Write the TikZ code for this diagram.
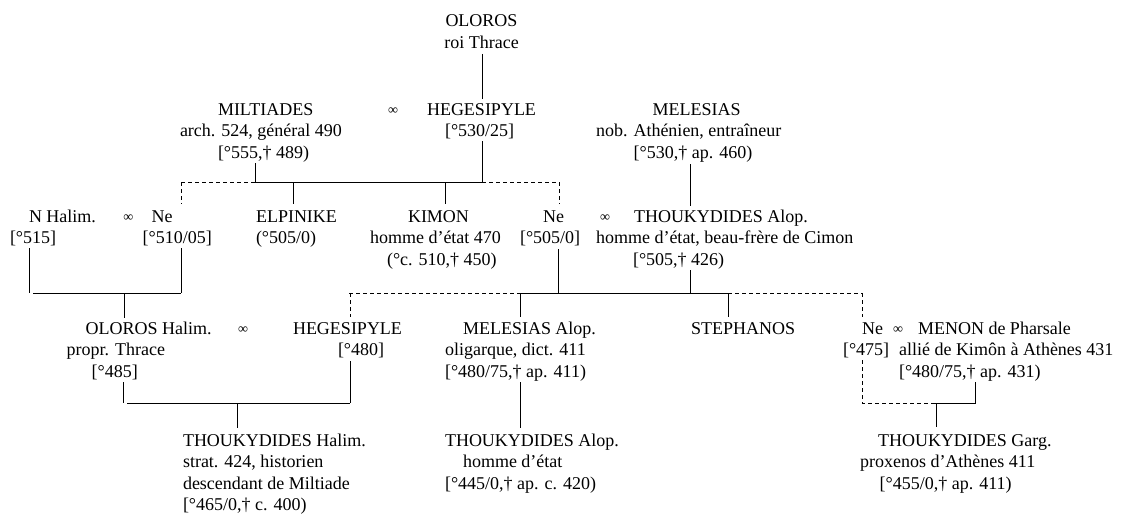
\documentclass[tikz,border=0pt]{standalone}
\usepackage{fontspec}
\setmainfont{Liberation Serif}
\newcommand{\gfs}{\fontsize{18}{21.6}\selectfont}
\newcommand{\mfs}{\fontsize{14}{16}\selectfont}
\newcommand{\Lb}[1]{\begin{tabular}[t]{@{}l@{}}#1\end{tabular}}
\newcommand{\Cb}[1]{\begin{tabular}[t]{@{}c@{}}#1\end{tabular}}
\newcommand{\ii}[1]{\hspace*{#1pt}}
\tikzset{
  pers/.style={inner sep=0pt, outer sep=0pt, anchor=base west, font=\gfs},
  marr/.style={inner sep=0pt, outer sep=0pt, anchor=base, font=\mfs},
  top/.style={inner sep=0pt, outer sep=0pt, anchor=base, font=\gfs},
  ln/.style={line width=0.8pt},
  dl/.style={line width=0.8pt, dash pattern=on 4pt off 3pt},
}
\begin{document}
\begin{tikzpicture}[x=1pt,y=-1pt]
\useasboundingbox (0,0) rectangle (1123,516);
% ---- persons
\node[top] (oloros) at (481.5,27) {\Cb{OLOROS\\roi Thrace}};
\node[pers] (milt) at (180,115) {\Lb{\ii{38}MILTIADES\\arch. 524, général 490\\\ii{38}[°555,† 489)}};
\node[marr] (m1) at (393,114) {∞};
\node[pers] (hege1) at (427,115) {\Lb{HEGESIPYLE\\\ii{18}[°530/25]}};
\node[pers] (mel) at (596,115) {\Lb{\ii{56.6}MELESIAS\\nob. Athénien, entraîneur\\\ii{37.6}[°530,† ap. 460)}};

\node[pers] (nhal) at (10,222) {\Lb{\ii{19}N Halim.\\{}[°515]}};
\node[marr] (m2) at (128.3,221) {∞};
\node[pers] (ne1) at (142.7,222) {\Lb{\ii{9}Ne\\{}[°510/05]}};
\node[pers] (elp) at (256,222) {\Lb{ELPINIKE\\(°505/0)}};
\node[pers] (kimon) at (370,222) {\Lb{\ii{38}KIMON\\homme d’état 470\\\ii{17}(°c. 510,† 450)}};
\node[pers] (ne2) at (520,222) {\Lb{\ii{23}Ne\\{}[°505/0]}};
\node[marr] (m3) at (605,221) {∞};
\node[pers] (thal) at (596,222) {\Lb{\ii{38}THOUKYDIDES Alop.\\homme d’état, beau-frère de Cimon\\\ii{37}[°505,† 426)}};

\node[pers] (olh) at (66.7,334) {\Lb{\ii{19}OLOROS Halim.\\propr. Thrace\\\ii{25}[°485]}};
\node[marr] (m4) at (243,333) {∞};
\node[pers] (hege2) at (293,334) {\Lb{HEGESIPYLE\\\ii{45}[°480]}};
\node[pers] (melal) at (445,334) {\Lb{\ii{18}MELESIAS Alop.\\oligarque, dict. 411\\{}[°480/75,† ap. 411)}};
\node[pers] (steph) at (691,334) {STEPHANOS};
\node[pers] (ne3) at (843,334) {\Lb{\ii{19}Ne\\{}[°475]}};
\node[marr] (m5) at (898,333) {∞};
\node[pers] (menon) at (899,334) {\Lb{\ii{19}MENON de Pharsale\\allié de Kimôn à Athènes 431\\{}[°480/75,† ap. 431)}};

\node[pers] (thh) at (183,446) {\Lb{THOUKYDIDES Halim.\\strat. 424, historien\\descendant de Miltiade\\{}[°465/0,† c. 400)}};
\node[pers] (tha) at (445,446) {\Lb{THOUKYDIDES Alop.\\\ii{18}homme d’état\\{}[°445/0,† ap. c. 420)}};
\node[pers] (thg) at (860,446) {\Lb{\ii{18}THOUKYDIDES Garg.\\proxenos d’Athènes 411\\\ii{19.6}[°455/0,† ap. 411)}};

% ---- junction coordinates
\coordinate (a0) at (482,54);   \coordinate (a1) at (482,99);
\coordinate (b0) at (482,141);  \coordinate (b1) at (482,182);
\coordinate (c0) at (255.5,163);\coordinate (c1) at (255.5,182);
\coordinate (hL) at (181,182);  \coordinate (hR) at (559,182);
\coordinate (dne1) at (181,204); \coordinate (delp) at (293,204);
\coordinate (delp0) at (293,182);
\coordinate (dkim0) at (445,182); \coordinate (dkim) at (445,204);
\coordinate (dne2) at (559,204);
\coordinate (e0) at (690,164);  \coordinate (e1) at (690,206);

\coordinate (f0) at (29,248);  \coordinate (f1) at (29,293);
\coordinate (g0) at (181,248); \coordinate (g1) at (181,293);
\coordinate (fh) at (33,293);
\coordinate (k0) at (124,293); \coordinate (k1) at (124,318);

\coordinate (n0) at (558,249); \coordinate (n1) at (558,293);
\coordinate (t0) at (690,270); \coordinate (t1) at (690,293);
\coordinate (pL) at (349,293); \coordinate (pM) at (520,293);
\coordinate (pS) at (728,293); \coordinate (pR) at (862,293);
\coordinate (qL) at (350,293); \coordinate (qL1) at (350,317);
\coordinate (qM1) at (520,317); \coordinate (qS1) at (728,317);
\coordinate (qR1) at (862,317);

\coordinate (r0) at (123,382); \coordinate (r1) at (123,403);
\coordinate (rh) at (127,403);
\coordinate (s0) at (350,361); \coordinate (s1) at (350,403);
\coordinate (u0) at (237,403); \coordinate (u1) at (237,428);
\coordinate (v0) at (520,382); \coordinate (v1) at (520,428);
\coordinate (w0) at (862,360); \coordinate (w1) at (862,403);
\coordinate (wm) at (935,403);
\coordinate (x0) at (975,382); \coordinate (x1) at (975,403);
\coordinate (y0) at (936,403); \coordinate (y1) at (936,427);

% ---- connectors
\draw[ln] (a0) -- (a1);
\draw[ln] (b0) -- (b1);
\draw[ln] (c0) -- (c1) -- (b1);
\draw[dl] (hL) -- (c1);
\draw[dl] (b1) -- (hR);
\draw[dl] (hL) -- (dne1);
\draw[ln] (delp0) -- (delp);
\draw[ln] (dkim0) -- (dkim);
\draw[dl] (hR) -- (dne2);
\draw[ln] (e0) -- (e1);

\draw[ln] (f0) -- (f1);
\draw[ln] (g0) -- (g1);
\draw[ln] (fh) -- (g1);
\draw[ln] (k0) -- (k1);

\draw[ln] (n0) -- (n1);
\draw[ln] (t0) -- (t1);
\draw[dl] (pL) -- (pM);
\draw[ln] (pM) -- (pS);
\draw[dl] (pS) -- (pR);
\draw[dl] (qL) -- (qL1);
\draw[ln] (pM) -- (qM1);
\draw[ln] (pS) -- (qS1);
\draw[dl] (pR) -- (qR1);

\draw[ln] (r0) -- (r1);
\draw[ln] (s0) -- (s1);
\draw[ln] (rh) -- (s1);
\draw[ln] (u0) -- (u1);
\draw[ln] (v0) -- (v1);
\draw[dl] (w0) -- (w1) -- (wm);
\draw[ln] (wm) -- (x1) -- (x0);
\draw[ln] (y0) -- (y1);
\end{tikzpicture}
\end{document}
